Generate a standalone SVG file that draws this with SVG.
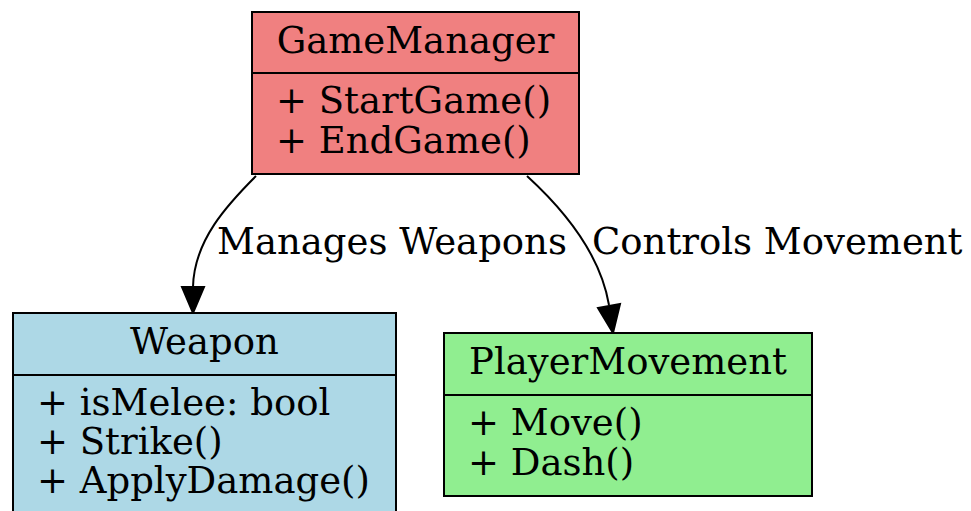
<svg xmlns="http://www.w3.org/2000/svg" width="971" height="511" viewBox="0 0 971 511">
<defs>
<style>
text{font-family:"DejaVu Serif","Liberation Serif",serif;font-size:37px;fill:#000}
.box{stroke:#000;stroke-width:2}
.div{stroke:#000;stroke-width:2}
.edge{fill:none;stroke:#000;stroke-width:2}
.head{fill:#000;stroke:#000;stroke-width:2}
.mid{text-anchor:middle}
</style>
</defs>
<rect width="971" height="511" fill="#fff"/>
<g id="connectors">
<path class="edge" d="M256,176 C228,204 194,240 193,287"/>
<path class="head" d="M182,287 L204,287 L193,313 Z"/>
<text x="217" y="254">Manages Weapons</text>
<path class="edge" d="M527,176 C562,208 600,252 609,305"/>
<path class="head" d="M598,308 L620,304 L613,333 Z"/>
<text x="592" y="254">Controls Movement</text>
</g>
<g id="GameManager">
<rect class="box" x="252" y="12" width="327" height="162" fill="#F08080"/>
<line class="div" x1="252" y1="73" x2="579" y2="73"/>
<text class="mid" x="415.5" y="53">GameManager</text>
<text x="276" y="113">+ StartGame()</text>
<text x="276" y="153">+ EndGame()</text>
</g>
<g id="Weapon">
<rect class="box" x="13" y="313" width="383" height="210" fill="#ADD8E6"/>
<line class="div" x1="13" y1="375" x2="396" y2="375"/>
<text class="mid" x="204.5" y="354">Weapon</text>
<text x="37" y="415">+ isMelee: bool</text>
<text x="37" y="454">+ Strike()</text>
<text x="37" y="493">+ ApplyDamage()</text>
</g>
<g id="PlayerMovement">
<rect class="box" x="444" y="333" width="368" height="163" fill="#90EE90"/>
<line class="div" x1="444" y1="395" x2="812" y2="395"/>
<text class="mid" x="628" y="374">PlayerMovement</text>
<text x="468" y="435">+ Move()</text>
<text x="468" y="475">+ Dash()</text>
</g>
</svg>
